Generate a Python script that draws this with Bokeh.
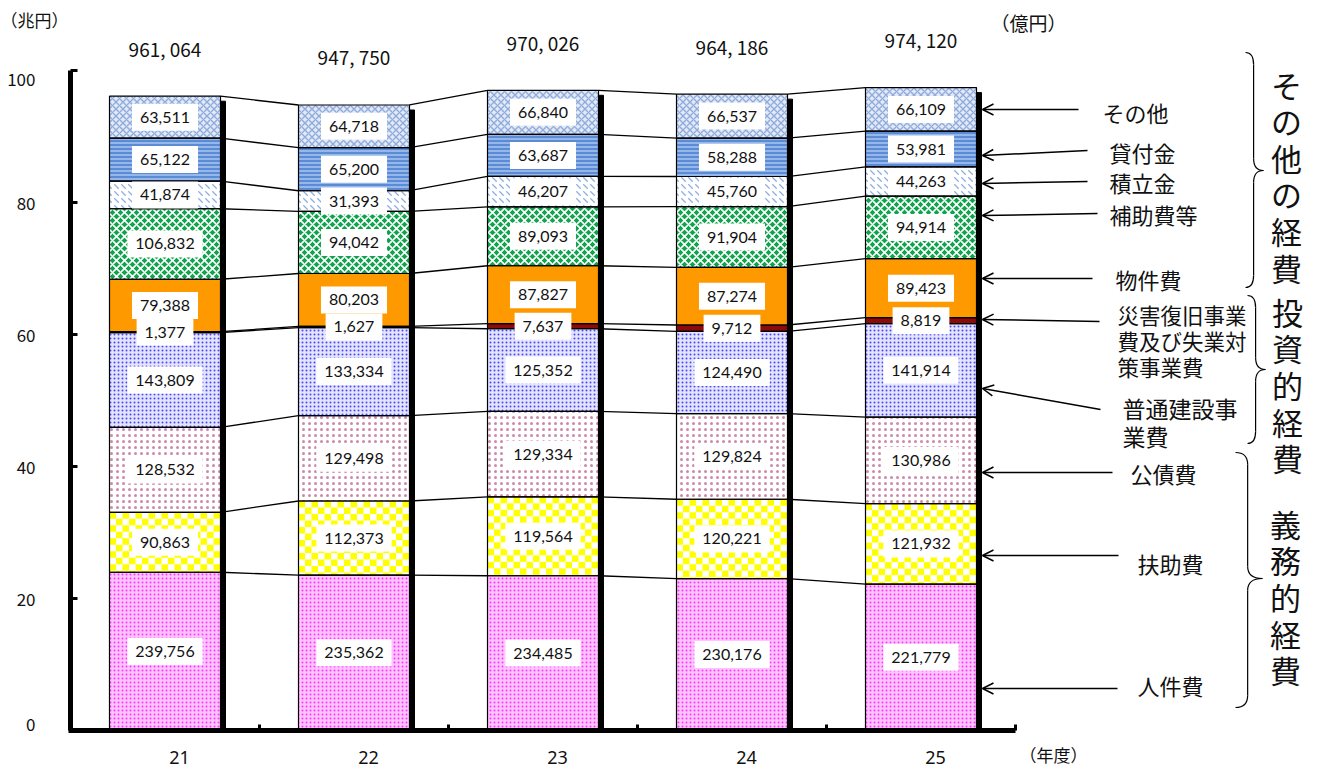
import numpy as np
from bokeh.plotting import figure
from bokeh.models import Range1d, FixedTicker, Arrow, OpenHead, LinearAxis
from bokeh.core.properties import value
from bokeh.embed import file_html
from bokeh.resources import INLINE

# ---------------- data (億円) ----------------
years = ["21", "22", "23", "24", "25"]
series_names = ["人件費", "扶助費", "公債費", "普通建設事業費", "災害復旧事業費及び失業対策事業費",
                "物件費", "補助費等", "積立金", "貸付金", "その他"]
jinken = [239756, 235362, 234485, 230176, 221779]
fujo = [90863, 112373, 119564, 120221, 121932]
kousai = [128532, 129498, 129334, 129824, 130986]
futsuu = [143809, 133334, 125352, 124490, 141914]
saigai = [1377, 1627, 7637, 9712, 8819]
bukken = [79388, 80203, 87827, 87274, 89423]
hojo = [106832, 94042, 89093, 91904, 94914]
tsumitate = [41874, 31393, 46207, 45760, 44263]
kashitsuke = [65122, 65200, 63687, 58288, 53981]
sonota = [63511, 64718, 66840, 66537, 66109]
y_ticks = [0, 20, 40, 60, 80, 100]

layers = [jinken, fujo, kousai, futsuu, saigai, bukken, hojo, tsumitate, kashitsuke, sonota]
UNIT = 10000.0  # 億円 -> 兆円

# ---------------- layout helpers ----------------
W_PX, H_PX = 1317, 769
PX_PER_CAT = 189.0
PX_PER_TRIL = 6.6
X0_PAGE = 70.0
Y0_PAGE = 730.0


def xd(px):
    return -0.5 + (px - X0_PAGE) / PX_PER_CAT


def yd(py):
    return (Y0_PAGE - py) / PX_PER_TRIL


BAR_W = 111.0 / PX_PER_CAT
SHADOW_DX = 5.0 / PX_PER_CAT
SHADOW_DY = 5.0 / PX_PER_TRIL
CHECK_PX = 6.5

p = figure(width=W_PX, height=H_PX,
           x_range=Range1d(xd(0), xd(W_PX)),
           y_range=Range1d(yd(H_PX), yd(0)),
           x_axis_type=None, output_backend="svg", toolbar_location=None,
           min_border=0, outline_line_color=None,
           background_fill_color="white", border_fill_color="white")
p.grid.visible = False

# y axis (兆円)
ya = p.yaxis[0]
ya.fixed_location = -0.5
ya.bounds = (0, 100)
ya.ticker = FixedTicker(ticks=y_ticks)
ya.minor_tick_line_color = None
ya.axis_line_width = 5
ya.major_tick_in = 7
ya.major_tick_out = 0
ya.major_tick_line_width = 3
ya.major_label_text_font = "Noto Sans CJK JP"
ya.major_label_text_font_size = "17px"
ya.major_label_text_color = "#111111"
ya.major_label_standoff = 35
ya.major_label_text_line_height = 0.6
ya.major_label_overrides = {100: "\n100", 0: "0\n"}

# x axis line with boundary ticks
xs = list(range(len(years)))
bounds_ticks = [k + 0.5 for k in xs]
xa = LinearAxis(fixed_location=0, bounds=(xd(67.5), xs[-1] + 0.5),
                ticker=FixedTicker(ticks=bounds_ticks),
                major_label_overrides={t: "" for t in bounds_ticks},
                axis_line_width=5, major_tick_in=6, major_tick_out=0,
                major_tick_line_width=3, minor_tick_line_color=None)
p.add_layout(xa, "below")

# ---------------- styles ----------------
styles = [
    dict(fill_color="#FFC4FF", hatch_pattern="dot", hatch_color="#FF33FF", hatch_scale=4, hatch_weight=1.6),
    dict(fill_color="white", hatch_pattern=None, checker="#FFFF00"),
    dict(fill_color="white", hatch_pattern="dot", hatch_color="#CC8AAA", hatch_scale=6, hatch_weight=1.0),
    dict(fill_color="#E4E4FF", hatch_pattern="dot", hatch_color="#4747FF", hatch_scale=4, hatch_weight=1.3),
    dict(fill_color="#8B0A0A", hatch_pattern=None),
    dict(fill_color="#FF9900", hatch_pattern=None),
    dict(fill_color="#0FA34C", hatch_pattern="diagonal_cross", hatch_color="white", hatch_scale=8, hatch_weight=1.6),
    dict(fill_color="white", hatch_pattern="left_diagonal_dash", hatch_color="#8CAEE0", hatch_scale=7, hatch_weight=1.3),
    dict(fill_color="#5C8BD6", hatch_pattern="horizontal_line", hatch_color="#A9C6F0", hatch_scale=4, hatch_weight=1.5),
    dict(fill_color="#E2EAF7", hatch_pattern="diagonal_cross", hatch_color="#8FAADC", hatch_scale=7, hatch_weight=1.4),
]

arr = np.array(layers, dtype=float) / UNIT
tops = np.cumsum(arr, axis=0)
bottoms = tops - arr
totals_oku = np.sum(np.array(layers), axis=0)
totals = tops[-1]

# shadows
p.vbar(x=[x + SHADOW_DX for x in xs], width=BAR_W, bottom=0,
       top=list(totals - SHADOW_DY), fill_color="black", line_color="black")

# stacked bars (fills)
for i, st in enumerate(styles):
    kw = dict(fill_color=st["fill_color"], line_color=None)
    if st["hatch_pattern"] is not None:
        kw.update(hatch_pattern=st["hatch_pattern"], hatch_color=st["hatch_color"],
                  hatch_scale=st["hatch_scale"], hatch_weight=st["hatch_weight"])
    p.vbar(x=xs, width=BAR_W, bottom=list(bottoms[i]), top=list(tops[i]), **kw)

    if "checker" in st:
        dx = CHECK_PX / PX_PER_CAT
        dy = CHECK_PX / PX_PER_TRIL
        ql, qr, qb, qt = [], [], [], []
        for k in xs:
            x_l, x_r = k - BAR_W / 2, k + BAR_W / 2
            b, t = bottoms[i][k], tops[i][k]
            ncol = int(np.ceil((x_r - x_l) / dx))
            nrow = int(np.ceil((t - b) / dy))
            for c in range(ncol):
                for r in range(nrow):
                    if (c + r) % 2 == 0:
                        ql.append(x_l + c * dx)
                        qr.append(min(x_l + (c + 1) * dx, x_r))
                        qt.append(t - r * dy)
                        qb.append(max(t - (r + 1) * dy, b))
        p.quad(left=ql, right=qr, bottom=qb, top=qt, fill_color=st["checker"], line_color=None)

# segment outlines
for i in range(len(layers)):
    p.vbar(x=xs, width=BAR_W, bottom=list(bottoms[i]), top=list(tops[i]),
           fill_color=None, line_color="black", line_width=1.2)

# connector lines between bars
cx0, cy0, cx1, cy1 = [], [], [], []
for k in xs[:-1]:
    for j in range(len(layers)):
        cx0.append(k + BAR_W / 2)
        cy0.append(tops[j][k])
        cx1.append(k + 1 - BAR_W / 2)
        cy1.append(tops[j][k + 1])
p.segment(x0=cx0, y0=cy0, x1=cx1, y1=cy1, line_color="black", line_width=1.3)

# value labels in white boxes
lx, ly, lt = [], [], []
for i in range(len(layers)):
    for k in xs:
        lx.append(k)
        ly.append((bottoms[i][k] + tops[i][k]) / 2)
        lt.append(f"{layers[i][k]:,}")
p.text(x=lx, y=ly, text=lt, text_font=value("Lato"), text_font_size="16px",
       text_align="center", text_baseline="middle", text_color="#111111",
       background_fill_color="white", padding=8)

# totals above bars
p.text(x=xs, y=list(totals + 48 / PX_PER_TRIL),
       text=[f"{t:,}".replace(",", ", ") for t in totals_oku],
       text_font=value("Noto Sans CJK JP"), text_font_size="19px",
       text_align="center", text_baseline="middle", text_color="#111111")

# category labels (年度)
p.text(x=[x + 14.5 / PX_PER_CAT for x in xs], y=[yd(757)] * len(xs), text=years,
       text_font=value("Noto Sans"), text_font_size="18px",
       text_align="center", text_baseline="middle", text_color="#111111")

# unit labels
p.text(x=[xd(34), xd(1053)], y=[yd(19), yd(754)],
       text=["（兆円）", "（年度）"],
       text_font=value("Noto Sans CJK JP"), text_font_size="17px",
       text_align="center", text_baseline="middle", text_color="#111111")
p.text(x=[xd(1028)], y=[yd(22)], text=["（億円）"],
       text_font=value("Noto Sans CJK JP"), text_font_size="19px",
       text_align="center", text_baseline="middle", text_color="#111111")

# ---------------- right-side callouts ----------------
tip_x = xd(982)
callouts = [
    # (lines, text x px, first line y px, align, arrow start (px), arrow end y px, font px, line gap)
    (["その他"], 1135, 111, "center", (1078, 109), 109, 22, 0),
    (["貸付金"], 1142, 151, "center", (1087, 150), 155, 22, 0),
    (["積立金"], 1142, 181, "center", (1087, 181), 183, 22, 0),
    (["補助費等"], 1153, 213, "center", (1097, 213), 215, 22, 0),
    (["物件費"], 1148, 278, "center", (1092, 278), 278, 22, 0),
    (["災害復旧事業", "費及び失業対", "策事業費"], 1117, 314, "left", (1099, 321), 319, 21.5, 26),
    (["普通建設事", "業費"], 1122, 407, "left", (1100, 409), 388, 23, 28),
    (["公債費"], 1163, 472, "center", (1112, 472), 472, 22, 0),
    (["扶助費"], 1170, 562, "center", (1118, 555), 555, 22, 0),
    (["人件費"], 1170, 684, "center", (1117, 688), 688, 22, 0),
]
for lines, tx, ty, align, (ax, ay), ey, fs, gap in callouts:
    p.text(x=[xd(tx)] * len(lines), y=[yd(ty + n * gap) for n in range(len(lines))],
           text=lines, text_font=value("Noto Sans CJK JP"), text_font_size=f"{fs}px",
           text_align=align, text_baseline="middle", text_color="#111111")
    p.add_layout(Arrow(end=OpenHead(size=11, line_width=1.5, line_color="black"),
                       x_start=xd(ax), y_start=yd(ay), x_end=tip_x, y_end=yd(ey),
                       line_width=1.5, line_color="black"))

# group labels with braces
groups = [
    # (text, x px, center y px, brace x0, brace x1, top, bottom, mid)
    ("その他の経費", 1286, 175, 1245, 1263, 52, 287, 170),
    ("投資的経費", 1287, 384, 1247, 1265, 295, 443, 369),
    ("義務的経費", 1285, 596, 1235, 1262, 452, 707, 578),
]
char_gap = 36.6
for txt, gx, gy, bx0, bx1, bt, bb, bm in groups:
    n = len(txt)
    ys = [yd(gy + (c - (n - 1) / 2) * char_gap) for c in range(n)]
    p.text(x=[xd(gx)] * n, y=ys, text=list(txt), text_font=value("Noto Sans CJK JP"),
           text_font_size="31px", text_align="center", text_baseline="middle",
           text_color="#111111")
    xs_ = bx0 + 0.45 * (bx1 - bx0)
    r = 12
    q = [((bx0, bt), (xs_, bt), (xs_, bt + r)),
         ((xs_, bm - r), (xs_, bm), (bx1, bm)),
         ((bx1, bm), (xs_, bm), (xs_, bm + r)),
         ((xs_, bb - r), (xs_, bb), (bx0, bb))]
    p.quadratic(x0=[xd(a[0]) for a, c, b in q], y0=[yd(a[1]) for a, c, b in q],
                cx=[xd(c[0]) for a, c, b in q], cy=[yd(c[1]) for a, c, b in q],
                x1=[xd(b[0]) for a, c, b in q], y1=[yd(b[1]) for a, c, b in q],
                line_color="black", line_width=1.2)
    p.segment(x0=[xd(xs_)] * 2, y0=[yd(bt + r), yd(bm + r)],
              x1=[xd(xs_)] * 2, y1=[yd(bm - r), yd(bb - r)],
              line_color="black", line_width=1.2)

open("out.html", "w").write(file_html(p, INLINE))
